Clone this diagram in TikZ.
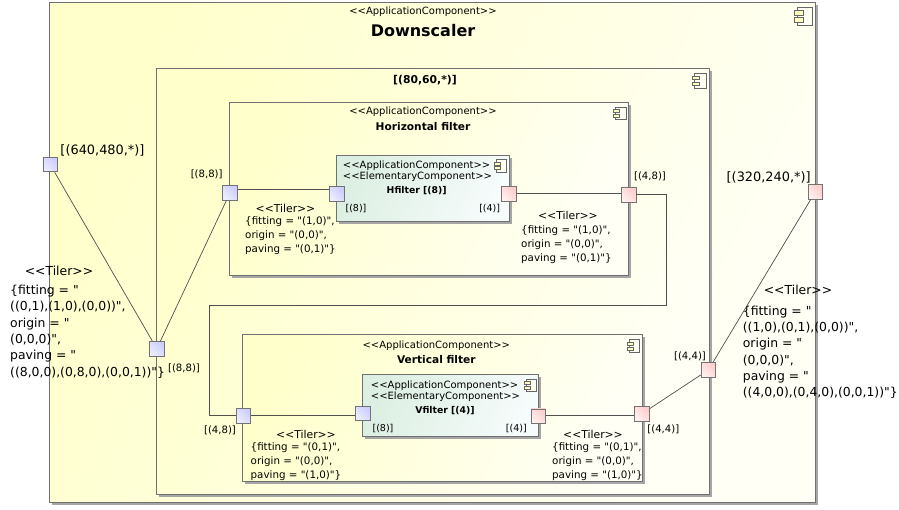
\documentclass[tikz,border=0pt]{standalone}
\usepackage{fontspec}
\setmainfont{DejaVu Sans}[Ligatures=TeXOff]
\usetikzlibrary{shadows}
\definecolor{boxline}{HTML}{707070}
\definecolor{connline}{HTML}{505050}
\definecolor{compleft}{HTML}{FFFFCC}
\definecolor{compright}{HTML}{FFFFF6}
\definecolor{elemleft}{HTML}{DCEFE2}
\definecolor{elemright}{HTML}{F6FBFB}
\newcommand{\stereo}[1]{<{}<#1>{}>}
\newcommand{\fsize}[2]{\fontsize{#1}{#2}\selectfont}
\tikzset{
  compbox/.style={draw=boxline,line width=1pt,inner sep=0pt,
    left color=compleft,right color=compright,shading angle=65,
    drop shadow={opacity=1,fill=black!35,shadow xshift=2.5pt,shadow yshift=-2.5pt}},
  elembox/.style={compbox,left color=elemleft,right color=elemright,shading angle=65},
  portbox/.style={draw=black!55,line width=.9pt,minimum size=14.5pt,inner sep=0pt,shading angle=135},
  inport/.style={portbox,left color=blue!7,right color=blue!20,shading angle=135},
  outport/.style={portbox,left color=red!6,right color=red!20,shading angle=135},
  conn/.style={draw=connline,line width=.7pt},
  stereotxt/.style={font=\fsize{10}{12},inner sep=0pt},
  plabel/.style={font=\fsize{9.5}{12},inner sep=0pt},
  portlabel/.style={font=\fsize{10.1}{12},inner sep=0pt},
  biglabel/.style={font=\fsize{12.9}{15},inner sep=0pt},
  tilertitle/.style={font=\fsize{10.8}{12},inner sep=0pt},
  tilerbig/.style={font=\fsize{12.4}{16.3},inner sep=0pt,anchor=north west,align=left},
  tilersmall/.style={font=\fsize{10.3}{14},inner sep=0pt,anchor=north west,align=left},
  compicon/.pic={
    \draw[black!60,fill=yellow!5,line width=.6pt] (-4,-6.5) rectangle (6.5,6.5);
    \draw[black!60,fill=yellow!25,line width=.6pt] (-6.5,-4) rectangle (0,-1);
    \draw[black!60,fill=yellow!25,line width=.6pt] (-6.5,1) rectangle (0,4);
  },
}
\begin{document}
\begin{tikzpicture}[x=1pt,y=-1pt]
\useasboundingbox (0,0) rectangle (899,509);

\node[compbox,minimum width=766pt,minimum height=500pt] (downscaler) at (432.5,252) {};
\node[compbox,minimum width=553pt,minimum height=426.5pt] (tilerbox) at (432.5,281.7) {};
\node[compbox,minimum width=399.5pt,minimum height=173pt] (hbox) at (429.2,188.5) {};
\node[compbox,minimum width=400pt,minimum height=146.7pt] (vbox) at (442.5,408.3) {};
\node[elembox,minimum width=173pt,minimum height=66pt] (hfilter) at (422.5,188) {};
\node[elembox,minimum width=176.5pt,minimum height=61.7pt] (vfilter) at (450.7,405.8) {};

\pic[scale=1.4] at (803,16.3) {compicon};
\pic[scale=1.1] at (699,80.7) {compicon};
\pic[scale=.98] at (619.7,113.2) {compicon};
\pic[scale=.95] at (500.5,165.8) {compicon};
\pic[scale=.98] at (633.3,346) {compicon};
\pic[scale=.95] at (530,385.3) {compicon};

% ports
\foreach \pname/\x/\y in {pa/50.2/164.5,pb/156.8/348.8,pc/230/192.8,pd/336.7/193.8,pe/243.3/415.7,pf/363/413.5}
\node[inport] (\pname) at (\x,\y) {};
\foreach \pname/\x/\y in {qa/815.3/191.8,qb/708.5/369.8,qc/628.7/194.8,qd/508.8/193.8,qe/642/413.7,qf/538.3/416.2}
\node[outport] (\pname) at (\x,\y) {};
\coordinate (bendr) at (666.3,305.7);
\coordinate (bendl) at (209.5,305.7);

% connectors
\draw[conn] (pa) -- (pb);
\draw[conn] (pc) -- (pb);
\draw[conn] ([yshift=3.5pt]pc.east) -- ([yshift=4.5pt]pd.west);
\draw[conn] ([yshift=.8pt]qd.east) -- ([yshift=1.8pt]qc.west);
\draw[conn] (qc.east) -| (bendr) -- (bendl) |- (pe.west);
\draw[conn] ([yshift=.7pt]pe.east) -- ([yshift=-1.5pt]pf.west);
\draw[conn] ([yshift=.5pt]qf.east) -- ([yshift=-2pt]qe.west);
\draw[conn] (qe) -- (qb);
\draw[conn] (qb) -- (qa);

% titles
\node[stereotxt] (tdown) at (423,12) {\stereo{ApplicationComponent}};
\node[font=\fsize{16}{18}\bfseries,inner sep=0pt] (ndown) at (423,30.5) {Downscaler};
\node[font=\fsize{10.8}{13}\bfseries,inner sep=0pt] (ntiler) at (425,80.2) {[(80,60,*)]};
\node[stereotxt] (thbox) at (423,112) {\stereo{ApplicationComponent}};
\node[font=\fsize{10.6}{13}\bfseries,inner sep=0pt] (nhbox) at (423,127) {Horizontal filter};
\node[stereotxt] (tvbox) at (436.3,345.3) {\stereo{ApplicationComponent}};
\node[font=\fsize{10.6}{13}\bfseries,inner sep=0pt] (nvbox) at (436.3,360) {Vertical filter};
\node[stereotxt,anchor=west] (thf) at (342.7,165.7) {\stereo{ApplicationComponent}};
\node[stereotxt,anchor=west] (ehf) at (342.7,177) {\stereo{ElementaryComponent}};
\node[font=\fsize{9.3}{12}\bfseries,inner sep=0pt] (nhf) at (416.7,191) {Hfilter [(8)]};
\node[stereotxt,anchor=west] (tvf) at (370.7,385.3) {\stereo{ApplicationComponent}};
\node[stereotxt,anchor=west] (evf) at (370.7,397) {\stereo{ElementaryComponent}};
\node[font=\fsize{9.3}{12}\bfseries,inner sep=0pt] (nvf) at (445,411) {Vfilter [(4)]};

% port labels
\node[biglabel] (lpa) at (102.5,150) {[(640,480,*)]};
\node[biglabel] (lqa) at (768.7,177) {[(320,240,*)]};
\node[portlabel] (lpc) at (206.7,174.7) {[(8,8)]};
\node[portlabel] (lqc) at (650,176.7) {[(4,8)]};
\node[portlabel] (lpb) at (184,368.3) {[(8,8)]};
\node[portlabel] (lpe) at (220,430.7) {[(4,8)]};
\node[portlabel] (lqe) at (663.3,429.3) {[(4,4)]};
\node[portlabel] (lqb) at (690,356.7) {[(4,4)]};
\node[plabel] (lpd) at (356,208.3) {[(8)]};
\node[plabel] (lqd) at (489.7,208.3) {[(4)]};
\node[plabel] (lpf) at (383,428.3) {[(8)]};
\node[plabel] (lqf) at (516.3,428.3) {[(4)]};

% tilers
\node[biglabel,font=\fsize{12.4}{15}] (tila) at (59,270.5) {\stereo{Tiler}};
\node[tilerbig] (bodya) at (10,285) {\{fitting = "\\((0,1),(1,0),(0,0))",\\origin = "\\(0,0,0)",\\paving = "\\((8,0,0),(0,8,0),(0,0,1))"\}};
\node[biglabel,font=\fsize{12.4}{15}] (tilb) at (798,290) {\stereo{Tiler}};
\node[tilerbig] (bodyb) at (742.7,305.5) {\{fitting = "\\((1,0),(0,1),(0,0))",\\origin = "\\(0,0,0)",\\paving = "\\((4,0,0),(0,4,0),(0,0,1))"\}};
\node[tilertitle] (tilc) at (285.5,208) {\stereo{Tiler}};
\node[tilersmall] (bodyc) at (245,216.5) {\{fitting = "(1,0)",\\origin = "(0,0)",\\paving = "(0,1)"\}};
\node[tilertitle] (tild) at (568,215) {\stereo{Tiler}};
\node[tilersmall] (bodyd) at (521,225.5) {\{fitting = "(1,0)",\\origin = "(0,0)",\\paving = "(0,1)"\}};
\node[tilertitle] (tile) at (306,434) {\stereo{Tiler}};
\node[tilersmall] (bodye) at (250.5,442) {\{fitting = "(0,1)",\\origin = "(0,0)",\\paving = "(1,0)"\}};
\node[tilertitle] (tilf) at (593,434.5) {\stereo{Tiler}};
\node[tilersmall] (bodyf) at (552,442.5) {\{fitting = "(0,1)",\\origin = "(0,0)",\\paving = "(1,0)"\}};

\end{tikzpicture}
\end{document}
